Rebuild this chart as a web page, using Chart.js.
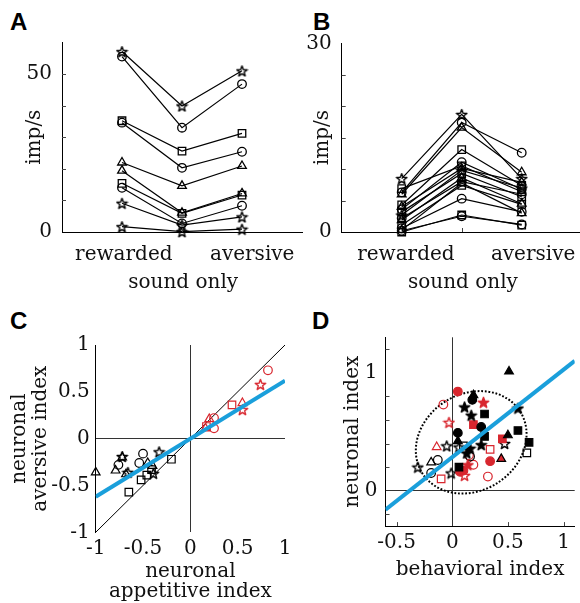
<!DOCTYPE html>
<html>
<head>
<meta charset="utf-8">
<script src="https://cdn.jsdelivr.net/npm/chart.js@4.4.1/dist/chart.umd.min.js"></script>
<style>
  html, body { margin: 0; padding: 0; background: #fff; overflow: hidden; }
  body { width: 580px; height: 603px; position: relative; }
  canvas { position: absolute; }
  .tag { position: absolute; font: bold 24px "Liberation Sans", Arial, sans-serif; line-height: 24px; color: #000; }
</style>
</head>
<body>
<div class="tag" style="left:10px;top:10px">A</div>
<div class="tag" style="left:313px;top:10px">B</div>
<div class="tag" style="left:10px;top:309px">C</div>
<div class="tag" style="left:312px;top:309px">D</div>
<canvas id="panelA" width="310" height="300" style="left:0;top:0"></canvas>
<canvas id="panelB" width="300" height="300" style="left:300px;top:0"></canvas>
<canvas id="panelC" width="300" height="303" style="left:0;top:300px"></canvas>
<canvas id="panelD" width="300" height="303" style="left:300px;top:300px"></canvas>
<script>
// ---- data ----
const CONDITIONS = ['rewarded', 'sound only', 'aversive'];

// panel A: firing rate (imp/s) per neuron, [rewarded, sound only, aversive]
const A_MARKERS = ['star', 'circle', 'rect', 'circle', 'triangle', 'triangle', 'rect', 'circle', 'star', 'star'];
const A_RATES = [
  [57.1, 39.9, 51.0],
  [55.5, 33.0, 46.8],
  [35.2, 25.6, 31.2],
  [34.6, 20.3, 25.4],
  [22.0, 14.6, 20.9],
  [19.4, 6.1, 12.2],
  [15.4, 5.9, 11.7],
  [14.0, 2.7, 8.3],
  [9.1, 2.2, 4.8],
  [1.7, 0.1, 0.9]
];
const A_Y_LABELS = [0, 50];
const A_Y_MINOR = [10, 20, 30, 40, 50];

// panel B
const B_MARKERS = ['star', 'circle', 'triangle', 'rect', 'circle', 'rect', 'triangle', 'star',
                   'rect', 'triangle', 'circle', 'rect', 'circle', 'triangle', 'rect', 'circle'];
const B_RATES = [
  [8.5, 18.7, 8.5],
  [6.3, 17.4, 12.6],
  [6.0, 16.6, 9.5],
  [4.3, 13.1, 7.4],
  [3.6, 11.1, 6.8],
  [6.9, 10.5, 6.4],
  [4.0, 10.1, 7.9],
  [2.7, 9.8, 7.0],
  [3.2, 9.3, 5.6],
  [1.9, 8.6, 4.5],
  [2.2, 8.0, 6.0],
  [1.1, 7.4, 4.4],
  [0.6, 5.3, 3.2],
  [0.3, 7.8, 3.0],
  [0.0, 2.7, 1.1],
  [0.2, 2.5, 1.2]
];
const B_Y_LABELS = [0, 30];
const B_Y_MINOR = [5, 10, 15, 20, 25];

// panel C: neuronal appetitive index (x) vs neuronal aversive index (y)
const C_BLACK_TRIANGLE = [[-1.0, -0.36], [-0.79, -0.34], [-0.72, -0.20], [-0.68, -0.38], [-0.45, -0.26], [-0.40, -0.29]];
const C_BLACK_CIRCLE = [[-0.76, -0.28], [-0.54, -0.26], [-0.50, -0.16]];
const C_BLACK_SQUARE = [[-0.65, -0.57], [-0.52, -0.44], [-0.46, -0.39], [-0.41, -0.33], [-0.20, -0.22]];
const C_BLACK_STAR = [[-0.72, -0.19], [-0.66, -0.36], [-0.39, -0.37], [-0.33, -0.14]];
const C_RED_CIRCLE = [[0.82, 0.73], [0.25, 0.22], [0.25, 0.11]];
const C_RED_SQUARE = [[0.44, 0.36], [0.17, 0.13]];
const C_RED_TRIANGLE = [[0.55, 0.38], [0.20, 0.21], [0.16, 0.11]];
const C_RED_STAR = [[0.74, 0.58], [0.55, 0.31]];
const C_FIT = [[-1, -0.62], [1, 0.62]];
const C_UNITY = [[-1, -1], [1, 1]];
const C_TICKS = [-1, -0.5, 0, 0.5, 1];

// panel D: behavioral index (x) vs neuronal index (y)
const D_BLACK_CIRCLE_F = [[0.18, 0.77], [0.26, 0.54], [0.05, 0.49]];
const D_BLACK_SQUARE_F = [[0.29, 0.65], [0.59, 0.51], [0.29, 0.46], [0.69, 0.41], [0.06, 0.20]];
const D_BLACK_TRIANGLE_F = [[0.51, 1.01], [0.19, 0.81], [0.50, 0.47], [0.05, 0.42]];
const D_BLACK_STAR_F = [[0.11, 0.71], [0.17, 0.64], [0.59, 0.70], [0.26, 0.39], [0.13, 0.32], [0.16, 0.36]];
const D_BLACK_CIRCLE_O = [[-0.13, 0.26], [-0.19, 0.15], [0.16, 0.29]];
const D_BLACK_SQUARE_O = [[0.67, 0.32], [0.10, 0.38]];
const D_BLACK_TRIANGLE_O = [[-0.19, 0.24]];
const D_BLACK_STAR_O = [[-0.05, 0.38], [0.06, 0.37], [-0.31, 0.20], [-0.01, 0.15], [0.47, 0.40]];
const D_RED_CIRCLE_F = [[0.05, 0.84], [0.07, 0.16], [0.10, 0.17], [0.34, 0.25]];
const D_RED_SQUARE_F = [[0.19, 0.56], [0.45, 0.44]];
const D_RED_TRIANGLE_F = [[0.44, 0.27]];
const D_RED_STAR_F = [[0.28, 0.75], [0.14, 0.22]];
const D_RED_CIRCLE_O = [[-0.08, 0.73], [0.19, 0.22], [0.32, 0.12], [0.15, 0.30]];
const D_RED_SQUARE_O = [[-0.10, 0.10], [0.34, 0.35]];
const D_RED_TRIANGLE_O = [[-0.14, 0.37]];
const D_RED_STAR_O = [[-0.03, 0.58], [0.11, 0.13]];
const D_FIT = [[-0.6, -0.16], [1.1, 1.1]];
const D_ELLIPSE = { cx: 0.17, cy: 0.41, rx: 0.52, ry: 0.41, tilt: -32 };
const D_X_TICKS = [-0.5, 0, 0.5, 1];
const D_Y_TICKS = [0, 1];
const D_Y_MINOR = [-0.2, 0.2, 0.4, 0.6, 0.8, 1.2];

// ---- styling ----
const RED = '#d8262e';
const BLUE = '#1a9fdb';
const INK = '#111';

Chart.defaults.font.family = '"DejaVu Serif", serif';
Chart.defaults.font.size = 20;
Chart.defaults.color = INK;
Chart.defaults.animation = false;

function starImage(size, stroke, fill) {
  const c = document.createElement('canvas');
  c.width = c.height = size;
  const g = c.getContext('2d');
  const R = size / 2 - 1, r = R * 0.42, cx = size / 2, cy = size / 2 + 0.6;
  g.beginPath();
  for (let i = 0; i < 10; i++) {
    const rad = i % 2 ? r : R;
    const a = -Math.PI / 2 + i * Math.PI / 5;
    g.lineTo(cx + rad * Math.cos(a), cy + rad * Math.sin(a));
  }
  g.closePath();
  if (fill) { g.fillStyle = fill; g.fill(); }
  g.strokeStyle = stroke;
  g.lineWidth = 1.4;
  g.lineJoin = 'round';
  g.stroke();
  return c;
}

const RADIUS = { circle: 4.3, rect: 5.3, triangle: 5 };

function pointStyleFor(style, color, filled) {
  return style === 'star' ? starImage(13, color, filled ? color : null) : style;
}

// small inward tick marks along the axes
const innerTicks = {
  id: 'innerTicks',
  afterDraw(chart, args, opts) {
    const { ctx, chartArea: a, scales } = chart;
    ctx.save();
    ctx.strokeStyle = '#444';
    ctx.lineWidth = 1;
    ctx.beginPath();
    (opts.y || []).forEach(v => {
      const py = Math.round(scales.y.getPixelForValue(v)) + 0.5;
      ctx.moveTo(a.left, py);
      ctx.lineTo(a.left + 4, py);
    });
    (opts.x || []).forEach(v => {
      const px = Math.round(scales.x.getPixelForValue(v)) + 0.5;
      ctx.moveTo(px, a.bottom);
      ctx.lineTo(px, a.bottom - 4);
    });
    ctx.stroke();
    ctx.restore();
  }
};

const dottedEllipse = {
  id: 'dottedEllipse',
  beforeDatasetsDraw(chart, args, opts) {
    if (!opts.shape) return;
    const { ctx, scales: { x, y } } = chart;
    const e = opts.shape;
    const cx = x.getPixelForValue(e.cx), cy = y.getPixelForValue(e.cy);
    const rx = Math.abs(x.getPixelForValue(e.cx + e.rx) - cx);
    const ry = Math.abs(y.getPixelForValue(e.cy + e.ry) - cy);
    ctx.save();
    ctx.strokeStyle = '#000';
    ctx.lineWidth = 2;
    ctx.setLineDash([1.8, 1.8]);
    ctx.beginPath();
    ctx.ellipse(cx, cy, rx, ry, e.tilt * Math.PI / 180, 0, Math.PI * 2);
    ctx.stroke();
    ctx.restore();
  }
};

function rateLines(rates, styles) {
  return rates.map((row, i) => ({
    data: row.map((v, j) => ({ x: j, y: v })),
    showLine: true,
    borderColor: '#000',
    borderWidth: 1.2,
    pointStyle: pointStyleFor(styles[i], '#000', false),
    pointRadius: RADIUS[styles[i]] || 5,
    pointBorderColor: '#000',
    pointBackgroundColor: 'rgba(0,0,0,0)',
    pointBorderWidth: 1.3,
    clip: false
  }));
}

function markers(points, style, color, filled, edge) {
  return {
    data: points.map(p => ({ x: p[0], y: p[1] })),
    showLine: false,
    pointStyle: pointStyleFor(style, color, filled),
    pointRadius: RADIUS[style] || 5,
    pointBorderColor: edge || color,
    pointBackgroundColor: filled ? color : 'rgba(0,0,0,0)',
    pointBorderWidth: 1.2,
    clip: false
  };
}

function refLine(points, color, width) {
  return {
    data: points.map(p => ({ x: p[0], y: p[1] })),
    showLine: true,
    borderColor: color,
    borderWidth: width,
    pointRadius: 0
  };
}

const zeroGrid = { display: true, drawTicks: false, lineWidth: 1,
  color: c => (c.tick && c.tick.value === 0 ? '#333' : 'rgba(0,0,0,0)') };

const plainNumber = v => String(v);

function fixedTicks(values) {
  return s => { s.ticks = values.map(v => ({ value: v })); };
}

// ---- panels A and B ----
function ratePanel(id, rates, styles, yMax, yLabels, yMinor, labelPos, xMax, yBox, titlePad, padTop, padRight) {
  const labels = [CONDITIONS[0], ['', CONDITIONS[1]], CONDITIONS[2]];
  new Chart(document.getElementById(id), {
    type: 'scatter',
    data: { datasets: rateLines(rates, styles) },
    plugins: [innerTicks],
    options: {
      responsive: false,
      layout: { padding: { top: padTop, right: padRight, left: 0, bottom: 0 } },
      plugins: { legend: { display: false }, tooltip: { enabled: false },
        innerTicks: { y: yMinor, x: [1] } },
      scales: {
        x: {
          type: 'linear', min: -1, max: xMax,
          afterBuildTicks: fixedTicks(labelPos),
          afterFit: s => { s.height = 68; },
          ticks: { autoSkip: false, maxRotation: 0, padding: 9, font: { lineHeight: 1.4 },
            callback: (v, i) => labels[i] },
          grid: { display: false, drawTicks: false },
          border: { color: '#000', width: 1 }
        },
        y: {
          type: 'linear', min: 0, max: yMax,
          afterBuildTicks: fixedTicks(yLabels),
          afterFit: s => { s.width = yBox; },
          ticks: { padding: 10, callback: plainNumber },
          grid: { display: false, drawTicks: false },
          border: { color: '#000', width: 1 },
          title: { display: true, text: 'imp/s', padding: { top: titlePad, bottom: 0 } }
        }
      }
    }
  });
}

ratePanel('panelA', A_RATES, A_MARKERS, 60, A_Y_LABELS, A_Y_MINOR, [0.03, 1.02, 2.17], 3, 62, 23, 42.4, 8);
ratePanel('panelB', B_RATES, B_MARKERS, 30, B_Y_LABELS, B_Y_MINOR, [0.07, 1.02, 2.19], 3, 41.7, 11, 43.3, 18.3);

// ---- panel C ----
new Chart(document.getElementById('panelC'), {
  type: 'scatter',
  data: {
    datasets: [
      refLine(C_FIT, BLUE, 4),
      markers(C_RED_CIRCLE, 'circle', RED, false),
      markers(C_RED_SQUARE, 'rect', RED, false),
      markers(C_RED_TRIANGLE, 'triangle', RED, false),
      markers(C_RED_STAR, 'star', RED, false),
      markers(C_BLACK_CIRCLE, 'circle', '#000', false),
      markers(C_BLACK_SQUARE, 'rect', '#000', false),
      markers(C_BLACK_TRIANGLE, 'triangle', '#000', false),
      markers(C_BLACK_STAR, 'star', '#000', false),
      refLine(C_UNITY, '#000', 1)
    ]
  },
  options: {
    responsive: false,
    layout: { padding: { top: 45, right: 15, left: 0, bottom: 0 } },
    plugins: { legend: { display: false }, tooltip: { enabled: false } },
    scales: {
      x: {
        type: 'linear', min: -1, max: 1,
        afterBuildTicks: fixedTicks(C_TICKS),
        afterFit: s => { s.height = 70.7; },
        ticks: { autoSkip: false, maxRotation: 0, padding: 4, callback: plainNumber },
        grid: zeroGrid,
        border: { display: false },
        title: { display: true, text: ['neuronal', 'appetitive index'], font: { lineHeight: 1.0 },
          padding: { top: 0, bottom: 1 } }
      },
      y: {
        type: 'linear', min: -1, max: 1,
        afterBuildTicks: fixedTicks(C_TICKS),
        afterFit: s => { s.width = 95.7; },
        ticks: { padding: 6, callback: plainNumber },
        grid: zeroGrid,
        border: { color: '#000', width: 1 },
        title: { display: true, text: ['neuronal', 'aversive index'], font: { lineHeight: 1.05 },
          padding: { top: 9.5, bottom: 0 } }
      }
    }
  }
});

// ---- panel D ----
new Chart(document.getElementById('panelD'), {
  type: 'scatter',
  data: {
    datasets: [
      refLine(D_FIT, BLUE, 4),
      markers(D_BLACK_CIRCLE_F, 'circle', '#000', true),
      markers(D_BLACK_SQUARE_F, 'rect', '#000', true),
      markers(D_BLACK_TRIANGLE_F, 'triangle', '#000', true),
      markers(D_BLACK_STAR_F, 'star', '#000', true),
      markers(D_RED_CIRCLE_F, 'circle', RED, true),
      markers(D_RED_SQUARE_F, 'rect', RED, true),
      markers(D_RED_TRIANGLE_F, 'triangle', RED, true, '#000'),
      markers(D_RED_STAR_F, 'star', RED, true),
      markers(D_BLACK_CIRCLE_O, 'circle', '#000', false),
      markers(D_BLACK_SQUARE_O, 'rect', '#000', false),
      markers(D_BLACK_TRIANGLE_O, 'triangle', '#000', false),
      markers(D_BLACK_STAR_O, 'star', '#000', false),
      markers(D_RED_CIRCLE_O, 'circle', RED, false),
      markers(D_RED_SQUARE_O, 'rect', RED, false),
      markers(D_RED_TRIANGLE_O, 'triangle', RED, false),
      markers(D_RED_STAR_O, 'star', RED, false)
    ]
  },
  plugins: [innerTicks, dottedEllipse],
  options: {
    responsive: false,
    layout: { padding: { top: 37.3, right: 25.3, left: 0, bottom: 0 } },
    plugins: { legend: { display: false }, tooltip: { enabled: false },
      innerTicks: { y: D_Y_MINOR, x: [-0.5, 0.5, 1] },
      dottedEllipse: { shape: D_ELLIPSE } },
    scales: {
      x: {
        type: 'linear', min: -0.6, max: 1.1,
        afterBuildTicks: fixedTicks(D_X_TICKS),
        afterFit: s => { s.height = 76.9; },
        ticks: { autoSkip: false, maxRotation: 0, padding: 5, callback: plainNumber },
        grid: zeroGrid,
        border: { color: '#000', width: 1 },
        title: { display: true, text: 'behavioral index', padding: { top: 0, bottom: 21 } }
      },
      y: {
        type: 'linear', min: -0.3, max: 1.3,
        afterBuildTicks: fixedTicks(D_Y_TICKS),
        afterFit: s => { s.width = 85.5; },
        ticks: { padding: 8, callback: plainNumber },
        grid: zeroGrid,
        border: { color: '#000', width: 1 },
        title: { display: true, text: 'neuronal index', padding: { top: 41, bottom: 0 } }
      }
    }
  }
});
</script>
</body>
</html>
